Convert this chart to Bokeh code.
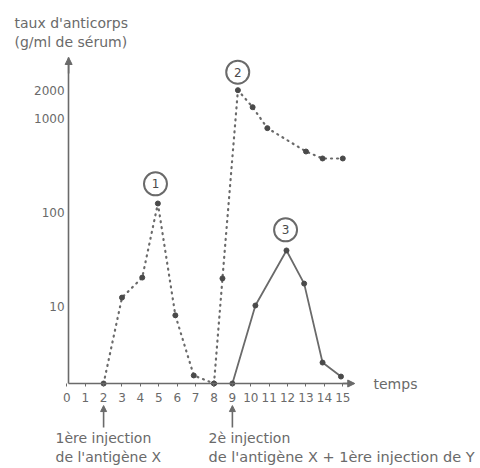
from bokeh.plotting import figure
from bokeh.models import FixedTicker, Label, Arrow, NormalHead, Range1d
from bokeh.core.properties import value
from bokeh.embed import file_html
from bokeh.resources import INLINE

# ---- data ----
x_ticks = list(range(0, 16))
y_ticks = [10, 100, 1000, 2000]
y_tick_labels = ["10", "100", "1000", "2000"]
base = 1.527  # level of the time axis

c1_x = [2, 3, 4.1, 4.95, 5.9, 6.9, 8]
c1_y = [base, 12.5, 20.4, 125, 8.1, 1.86, base]

c2_x = [8, 8.46, 9.3, 10.1, 10.9, 13.0, 13.9, 15.0]
c2_y = [base, 20, 2000, 1320, 790, 446, 376, 376]

c3_x = [9, 10.25, 11.94, 12.9, 13.9, 14.9]
c3_y = [base, 10.3, 39.6, 17.6, 2.55, 1.81]

badge_x = [4.82, 9.29, 11.89]
badge_y = [202, 3105, 65.6]
badge_txt = ["1", "2", "3"]

inj_x = [2, 9]
inj_tail, inj_head = 0.52, 0.89

# ---- figure ----
W, H = 480, 468
FONT = "DejaVu Sans"
GREY = "#6a6a6a"
DARK = "#4a4a4a"

p = figure(width=W, height=H, output_backend="svg", toolbar_location=None,
           y_axis_type="log",
           x_range=Range1d(-3.603, 22.484), y_range=Range1d(0.1908, 17950),
           min_border=0)
p.grid.visible = False
p.outline_line_color = None

xa = p.xaxis[0]
xa.ticker = FixedTicker(ticks=x_ticks)
xa.fixed_location = base
xa.bounds = (0.1, 15.6)
ya = p.yaxis[0]
ya.ticker = FixedTicker(ticks=y_ticks)
ya.fixed_location = 0.1
ya.bounds = (base, 4450)
ya.major_label_overrides = {t: s for t, s in zip(y_ticks, y_tick_labels)}
for ax in (xa, ya):
    ax.axis_line_color = GREY
    ax.axis_line_width = 1.6
    ax.major_tick_line_color = GREY
    ax.minor_tick_line_color = None
    ax.major_label_text_font = FONT
    ax.major_label_text_font_size = "12px"
    ax.major_label_text_color = GREY
xa.major_tick_in = 0
xa.major_tick_out = 3
xa.major_label_standoff = 6
ya.major_tick_in = 0
ya.major_tick_out = 0
ya.major_label_standoff = 4

# axis arrow heads
p.add_layout(Arrow(x_start=0.1, y_start=3000, x_end=0.1, y_end=4450, line_color=GREY, line_width=1.6,
                   end=NormalHead(size=7, fill_color=GREY, line_color=GREY)))
p.add_layout(Arrow(x_start=15.0, y_start=base, x_end=15.65, y_end=base, line_color=GREY, line_width=1.6,
                   end=NormalHead(size=7, fill_color=GREY, line_color=GREY)))

# curves
p.line(c1_x, c1_y, line_color=GREY, line_width=2.2, line_dash="1 5", line_cap="round")
p.scatter(c1_x, c1_y, size=5, color=DARK)
p.line(c2_x, c2_y, line_color=GREY, line_width=2.2, line_dash="1 5", line_cap="round")
p.scatter(c2_x, c2_y, size=5, color=DARK)
p.line(c3_x, c3_y, line_color=GREY, line_width=1.8)
p.scatter(c3_x, c3_y, size=5, color=DARK)

# numbered badges
p.scatter(badge_x, badge_y, size=23, fill_color="white", line_color=GREY, line_width=2)
p.text(badge_x, badge_y, text=badge_txt, text_align="center", text_baseline="middle",
       text_font=value(FONT), text_font_size="12px", text_color=DARK)

# screen helpers (picture pixel -> frame screen coords, origin bottom-left)
def lab(text, ix, iy, size="14px"):
    p.add_layout(Label(x=ix, y=H - iy, x_units="screen", y_units="screen", text=text,
                       text_font=FONT, text_font_size=size, text_color=GREY,
                       text_baseline="middle", text_align="left"))

lab("taux d'anticorps", 14, 22)
lab("(g/ml de sérum)", 14, 41)
lab("temps", 373, 383)
lab("1ère injection", 55, 437)
lab("de l'antigène X", 55, 456)
lab("2è injection", 208, 437)
lab("de l'antigène X + 1ère injection de Y", 208, 456, "14.5px")

# injection arrows
for xi in inj_x:
    p.add_layout(Arrow(x_start=xi, y_start=inj_tail, x_end=xi, y_end=inj_head,
                       line_color=GREY, line_width=1.6,
                       end=NormalHead(size=6, fill_color=GREY, line_color=GREY)))

open("out.html", "w").write(file_html(p, INLINE))
